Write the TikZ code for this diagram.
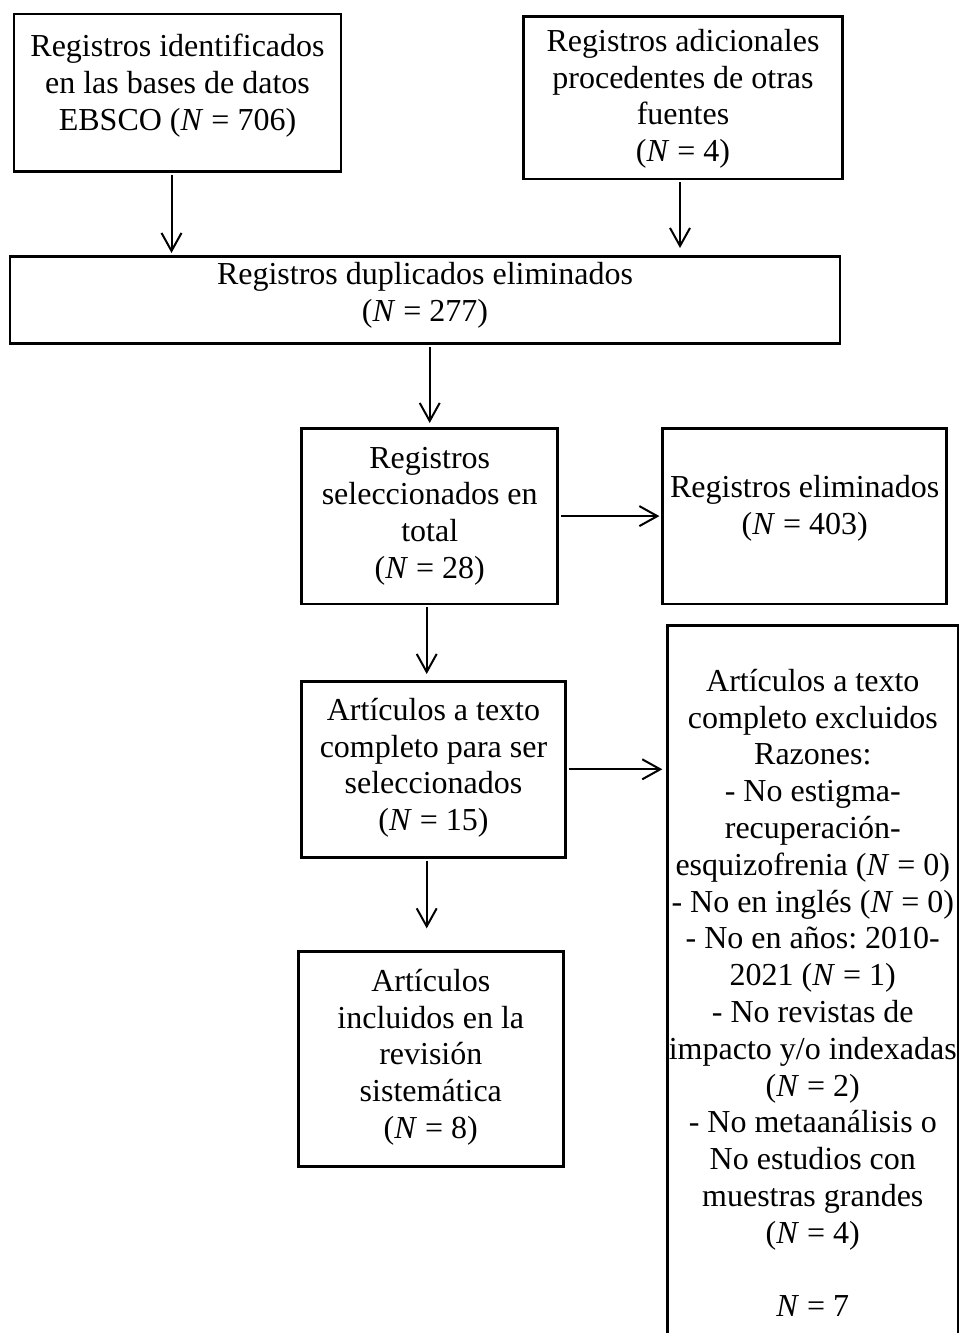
\documentclass[tikz,border=0pt]{standalone}
\usepackage{fontspec}
\setmainfont{Liberation Serif}
\usetikzlibrary{arrows.meta}

\begin{document}
\begin{tikzpicture}[x=0.5pt, y=-0.5pt,
      >={Straight Barb[length=9pt, width=10pt]},
      font=\fontsize{16}{18.4}\selectfont\frenchspacing,
      box/.style={
        draw,
        line width=1.3pt,
        align=center,
        anchor=north,
        inner sep=0pt
      },
      flow/.style={
        ->,
        line width=1pt,
        shorten <=1pt,
        shorten >=1pt
      },
    ]

    \useasboundingbox (0, 0) rectangle (962, 1333);
    \clip (0, 0) rectangle (962, 1333);

    % identificacion
    \node [box, minimum width=163.5pt, text height=58pt, text depth=20.7pt]
          (ebsco) at (177.5, 12.7)
          {Registros identificados\\en las bases de datos\\EBSCO (\textit{N} = 706)};
    \node [box, minimum width=159.7pt, text height=72.7pt, text depth=8.6pt]
          (otras) at (683, 15)
          {Registros adicionales\\procedentes de otras\\fuentes\\(\textit{N} = 4)};
    \node [box, minimum width=415pt, text height=32.6pt, text depth=11.1pt]
          (duplicados) at (425, 255)
          {Registros duplicados eliminados\\(\textit{N} = 277)};

    % cribado
    \node [box, minimum width=128pt, text height=75.1pt, text depth=12.7pt]
          (seleccionados) at (429.7, 427)
          {Registros\\seleccionados en\\total\\(\textit{N} = 28)};
    \node [box, minimum width=142pt, text height=52.7pt, text depth=34.9pt]
          (eliminados) at (804.7, 427.3)
          {Registros eliminados\\(\textit{N} = 403)};
    \node [box, minimum width=131.8pt, text height=74.7pt, text depth=13.3pt]
          (completos) at (433.5, 680)
          {Artículos a texto\\completo para ser\\seleccionados\\(\textit{N} = 15)};
    \node [box, minimum width=145.2pt, text height=345.8pt, text depth=47.2pt]
          (excluidos) at (812.8, 624)
          {Artículos a texto\\completo excluidos\\Razones:\\- No estigma-\\recuperación-\\esquizofrenia (\textit{N} = 0)\\- No en inglés (\textit{N} = 0)\\- No en años: 2010-\\2021 (\textit{N} = 1)\\- No revistas de\\impacto y/o indexadas\\(\textit{N} = 2)\\- No metaanálisis o\\No estudios con\\muestras grandes\\(\textit{N} = 4)\\[18.4pt]\textit{N} = 7};

    % incluidos
    \node [box, minimum width=132.5pt, text height=93.6pt, text depth=13.9pt]
          (incluidos) at (430.8, 950)
          {Artículos\\incluidos en la\\revisión\\sistemática\\(\textit{N} = 8)};

    \draw [flow] ([xshift=-3pt]ebsco.south) -- ([xshift=-3pt]ebsco.south |- duplicados.north);
    \draw [flow, shorten >=3.5pt] ([xshift=-1.5pt]otras.south) -- ([xshift=-1.5pt]otras.south |- duplicados.north);
    \draw [flow, shorten >=2pt] (duplicados.south -| seleccionados.north) -- (seleccionados.north);
    \draw [flow] (seleccionados.east) -- (seleccionados.east -| eliminados.west);
    \draw [flow, shorten >=3pt] ([xshift=-1.5pt]seleccionados.south) -- ([xshift=-1.5pt]seleccionados.south |- completos.north);
    \draw [flow, shorten >=2pt] (completos.east) -- (completos.east -| excluidos.west);
    \draw [flow, shorten >=10.8pt] ([xshift=-3.4pt]completos.south) -- ([xshift=-3.4pt]completos.south |- incluidos.north);
\end{tikzpicture}
\end{document}
